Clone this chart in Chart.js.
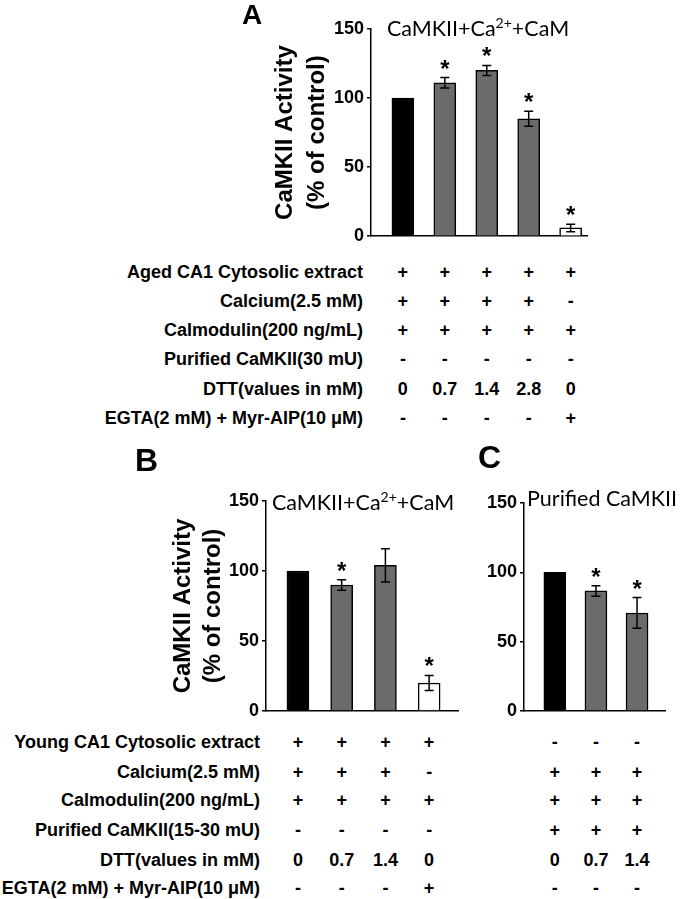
<!DOCTYPE html>
<html>
<head>
<meta charset="utf-8">
<script src="https://cdn.jsdelivr.net/npm/chart.js@4.4.1/dist/chart.umd.min.js"></script>
<style>
body { margin: 0; background: #fff; }
#fig { position: relative; width: 684px; height: 899px; overflow: hidden; font-family: 'Liberation Sans', Arial, sans-serif; color: #000; }
.box { position: absolute; }
.lbl { position: absolute; font-weight: bold; font-size: 18px; white-space: nowrap; transform: translateY(-50%); }
.mk { position: absolute; font-weight: bold; font-size: 18px; white-space: nowrap; transform: translate(-50%, -50%); }
.panel { position: absolute; font-weight: bold; line-height: 1; }
.ttl { position: absolute; font-family: Lato, 'Liberation Sans', sans-serif; font-size: 21.5px; white-space: nowrap; transform: translateY(-50%); z-index: 2; }
.ttl sup { font-size: 14px; vertical-align: 8px; line-height: 0; }
</style>
</head>
<body>
<div id="fig">
  <div class="box" style="left:0px;top:0px"><canvas id="chartA" width="684" height="250"></canvas></div>
  <div class="box" style="left:0px;top:440px"><canvas id="chartB" width="470" height="290"></canvas></div>
  <div class="box" style="left:470px;top:440px"><canvas id="chartC" width="214" height="290"></canvas></div>
</div>
<script>
// values (% of control)
const yTicks = [0, 50, 100, 150];

const condA = ['Aged CA1 Cytosolic extract', 'Calcium(2.5 mM)', 'Calmodulin(200 ng/mL)', 'Purified CaMKII(30 mU)', 'DTT(values in mM)', 'EGTA(2 mM) + Myr-AIP(10 μM)'];
const marksA = [
  ['+', '+', '+', '+', '+'],
  ['+', '+', '+', '+', '-'],
  ['+', '+', '+', '+', '+'],
  ['-', '-', '-', '-', '-'],
  ['0', '0.7', '1.4', '2.8', '0'],
  ['-', '-', '-', '-', '+']
];
const valuesA = [100, 111, 120, 85, 6];
const errorsA = [0, 3.8, 3.6, 5.4, 2.7];
const starsA = [false, true, true, true, true];
const groupA = ['control', 'dtt', 'dtt', 'dtt', 'egta'];

const condBC = ['Young CA1 Cytosolic extract', 'Calcium(2.5 mM)', 'Calmodulin(200 ng/mL)', 'Purified CaMKII(15-30 mU)', 'DTT(values in mM)', 'EGTA(2 mM) + Myr-AIP(10 μM)'];
const marksB = [
  ['+', '+', '+', '+'],
  ['+', '+', '+', '-'],
  ['+', '+', '+', '+'],
  ['-', '-', '-', '-'],
  ['0', '0.7', '1.4', '0'],
  ['-', '-', '-', '+']
];
const valuesB = [100, 90, 104, 20];
const errorsB = [0, 3.8, 11.9, 5.4];
const starsB = [false, true, false, true];
const groupB = ['control', 'dtt', 'dtt', 'egta'];

const marksC = [
  ['-', '-', '-'],
  ['+', '+', '+'],
  ['+', '+', '+'],
  ['+', '+', '+'],
  ['0', '0.7', '1.4'],
  ['-', '-', '-']
];
const valuesC = [100, 86.6, 70.7];
const errorsC = [0, 3.8, 11.1];
const starsC = [false, true, true];
const groupC = ['control', 'dtt', 'dtt'];

const fill = { control: '#000000', dtt: '#6b6b6b', egta: '#ffffff' };
const FONT = "'Liberation Sans', Arial, sans-serif";

// error bars + asterisks
const errorPlugin = {
  id: 'errs',
  afterDatasetsDraw(chart) {
    const ctx = chart.ctx;
    const ds = chart.data.datasets[0];
    const y = chart.scales.y;
    chart.getDatasetMeta(0).data.forEach((bar, i) => {
      const v = ds.data[i].y, e = ds.errors[i];
      let top = y.getPixelForValue(v);
      ctx.save();
      ctx.strokeStyle = '#000';
      ctx.lineWidth = 1.5;
      if (e > 0) {
        const y1 = y.getPixelForValue(v + e), y2 = y.getPixelForValue(v - e);
        ctx.beginPath();
        ctx.moveTo(bar.x, y1); ctx.lineTo(bar.x, y2);
        ctx.moveTo(bar.x - 4.5, y1); ctx.lineTo(bar.x + 4.5, y1);
        ctx.moveTo(bar.x - 4.5, y2); ctx.lineTo(bar.x + 4.5, y2);
        ctx.stroke();
        top = y1;
      }
      if (ds.stars[i]) {
        ctx.fillStyle = '#000';
        ctx.font = 'bold 24px ' + FONT;
        ctx.textAlign = 'center';
        ctx.textBaseline = 'alphabetic';
        ctx.fillText('*', bar.x, top - 1);
      }
      ctx.restore();
    });
  }
};

function makeChart(id, values, errors, stars, groups, o) {
  const yTitle = o.title
    ? { display: true, text: ['CaMKII Activity', '(% of control)'], color: '#000',
        font: { family: FONT, size: 24, weight: 'bold', lineHeight: o.titleLH },
        padding: { top: o.titlePad, bottom: 0 } }
    : { display: false };
  return new Chart(document.getElementById(id), {
    type: 'bar',
    data: {
      datasets: [{
        data: values.map((v, i) => ({ x: i, y: v })),
        errors: errors,
        stars: stars,
        backgroundColor: groups.map(g => fill[g]),
        borderColor: '#000',
        borderWidth: 1.5,
        barThickness: 22
      }]
    },
    options: {
      responsive: false,
      animation: false,
      layout: { padding: o.pad },
      plugins: { legend: { display: false }, tooltip: { enabled: false } },
      scales: {
        x: {
          type: 'linear', min: o.xMin, max: o.xMax, offset: false,
          ticks: { display: false },
          grid: { display: false },
          border: { display: true, color: '#000', width: 1.5 },
          afterFit: s => { s.height = 0; }
        },
        y: {
          min: 0, max: 150,
          afterBuildTicks: s => { s.ticks = yTicks.map(v => ({ value: v })); },
          ticks: { color: '#000', padding: 3, font: { family: FONT, size: 18, weight: 'bold' } },
          grid: { drawOnChartArea: false, drawTicks: true, tickLength: 4, color: '#000', lineWidth: 1.5 },
          border: { display: true, color: '#000', width: 1.5 },
          title: yTitle,
          afterFit: s => { s.width = o.yWidth; }
        }
      }
    },
    plugins: [errorPlugin]
  });
}

const fig = document.getElementById('fig');

function addTable(chart, left, labels, marks, rowsY, labelRight) {
  rowsY.forEach((yy, r) => {
    if (labels) {
      const l = document.createElement('div');
      l.className = 'lbl';
      l.style.right = (684 - labelRight) + 'px';
      l.style.top = yy + 'px';
      l.textContent = labels[r];
      fig.appendChild(l);
    }
    marks[r].forEach((m, i) => {
      const d = document.createElement('div');
      d.className = 'mk';
      d.style.left = (left + chart.scales.x.getPixelForValue(i)) + 'px';
      d.style.top = yy + 'px';
      d.textContent = m;
      fig.appendChild(d);
    });
  });
}

function addText(cls, html, x, y, size) {
  const d = document.createElement('div');
  d.className = cls;
  d.style.left = x + 'px';
  d.style.top = y + 'px';
  if (size) d.style.fontSize = size + 'px';
  d.innerHTML = html;
  fig.appendChild(d);
}

const chartA = makeChart('chartA', valuesA, errorsA, starsA, groupA, {
  pad: { left: 250, right: 97, top: 29, bottom: 11 }, yWidth: 121,
  xMin: -0.76, xMax: 4.39, title: true, titleLH: 1.333, titlePad: 19
});
const chartB = makeChart('chartB', valuesB, errorsB, starsB, groupB, {
  pad: { left: 150, right: 12, top: 61, bottom: 19 }, yWidth: 116,
  xMin: -0.73, xMax: 3.66, title: true, titleLH: 1.25, titlePad: 18
});
const chartC = makeChart('chartC', valuesC, errorsC, starsC, groupC, {
  pad: { left: 14, right: 19, top: 63, bottom: 19 }, yWidth: 40,
  xMin: -0.75, xMax: 2.68, title: false
});

const rowsA = [272, 301, 330, 359, 389, 418];
const rowsBC = [742, 772, 800, 830, 860, 888];
addTable(chartA, 0, condA, marksA, rowsA, 363);
addTable(chartB, 0, condBC, marksB, rowsBC, 260);
addTable(chartC, 470, null, marksC, rowsBC, 0);

addText('ttl', 'CaMKII+Ca<sup>2+</sup>+CaM', 387, 28);
addText('ttl', 'CaMKII+Ca<sup>2+</sup>+CaM', 272, 502);
addText('ttl', 'Purified CaMKII', 527, 498);
addText('panel', 'A', 242, 1, 28);
addText('panel', 'B', 135, 444, 32);
addText('panel', 'C', 478, 441, 32);
</script>
</body>
</html>
